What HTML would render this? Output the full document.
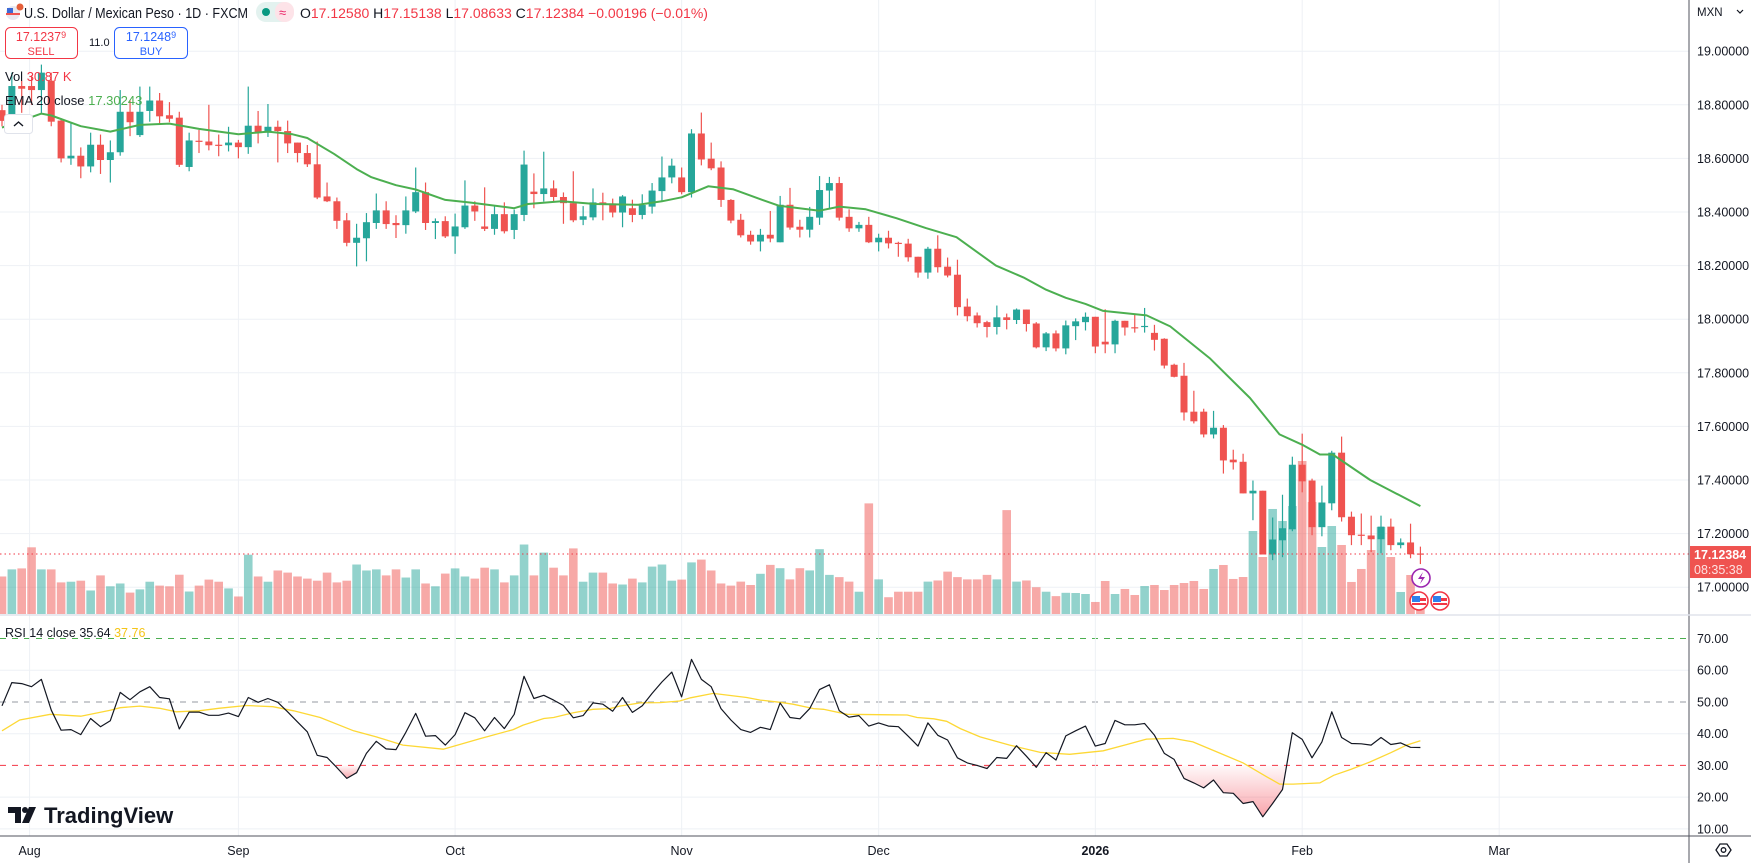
<!DOCTYPE html>
<html><head><meta charset="utf-8"><title>USDMXN</title>
<style>
html,body{margin:0;padding:0;background:#fff;}
body{width:1751px;height:863px;overflow:hidden;font-family:"Liberation Sans",sans-serif;}
svg text{font-family:"Liberation Sans",sans-serif;}
</style></head>
<body>
<svg id="chart" width="1751" height="863" viewBox="0 0 1751 863" xmlns="http://www.w3.org/2000/svg">
<defs>
<linearGradient id="osGrad" x1="0" y1="0" x2="0" y2="1">
<stop offset="0" stop-color="#f23645" stop-opacity="0.03"/>
<stop offset="1" stop-color="#f23645" stop-opacity="0.45"/>
</linearGradient>
</defs>
<rect x="0" y="0" width="1751" height="863" fill="#fff"/>
<g id="grid"></g>
<g id="vol"></g>
<g id="candles"></g>
<g id="ema"></g>
<g id="rsi"></g>
<g id="axes"></g>

<!-- header -->
<g>
  <g>
    <circle cx="13" cy="13" r="7" fill="#e8e8ef"/>
    <path d="M6 13 h14 v2 h-14z" fill="#ef5350"/>
    <rect x="7" y="8" width="6" height="5" fill="#3c6ad6"/>
    <circle cx="20" cy="7" r="3.5" fill="#e55f3a"/>
  </g>
  <text x="24" y="18" font-size="14.5" fill="#131722" textLength="224" lengthAdjust="spacingAndGlyphs">U.S. Dollar / Mexican Peso · 1D · FXCM</text>
  <g>
    <rect x="256" y="2" width="38" height="20" rx="10" fill="#e3f2ef"/>
    <rect x="275" y="2" width="19" height="20" rx="9" fill="#fde3e8"/>
    <circle cx="266" cy="12" r="4" fill="#089981"/>
    <text x="279" y="17" font-size="13" fill="#e91e63">≈</text>
  </g>
  <text x="300" y="18" font-size="14"><tspan fill="#131722">O</tspan><tspan fill="#f23645">17.12580</tspan><tspan fill="#131722"> H</tspan><tspan fill="#f23645">17.15138</tspan><tspan fill="#131722"> L</tspan><tspan fill="#f23645">17.08633</tspan><tspan fill="#131722"> C</tspan><tspan fill="#f23645">17.12384 −0.00196 (−0.01%)</tspan></text>
  <g>
    <rect x="5.5" y="27.5" width="72" height="31" rx="5" fill="#fff" stroke="#f23645"/>
    <text x="41" y="41" font-size="12.5" fill="#f23645" text-anchor="middle">17.1237<tspan font-size="9" dy="-3">9</tspan></text>
    <text x="41" y="55" font-size="11" fill="#f23645" text-anchor="middle">SELL</text>
  </g>
  <text x="89" y="46" font-size="11" fill="#131722">11.0</text>
  <g>
    <rect x="114.5" y="27.5" width="73" height="31" rx="5" fill="#fff" stroke="#2962ff"/>
    <text x="151" y="41" font-size="12.5" fill="#2962ff" text-anchor="middle">17.1248<tspan font-size="9" dy="-3">9</tspan></text>
    <text x="151" y="55" font-size="11" fill="#2962ff" text-anchor="middle">BUY</text>
  </g>
  <text x="5" y="81" font-size="13"><tspan fill="#131722">Vol </tspan><tspan fill="#f23645">30.87 K</tspan></text>
  <text x="5" y="105" font-size="13"><tspan fill="#131722">EMA 20 close </tspan><tspan fill="#4caf50">17.30243</tspan></text>
  <g>
    <rect x="4.5" y="114.5" width="28" height="19" rx="3" fill="#fff" stroke="#e0e3eb"/>
    <path d="M14 126 l4.5 -4 l4.5 4" fill="none" stroke="#131722" stroke-width="1.4"/>
  </g>
</g>

<text x="5" y="637" font-size="12.5"><tspan fill="#131722">RSI 14 close </tspan><tspan fill="#131722">35.64 </tspan><tspan fill="#f5c518">37.76</tspan></text>

<g>
  <path d="M8 807 h13 v16 h-6 v-10 h-7z" fill="#131722"/>
  <circle cx="25" cy="810" r="3" fill="#131722"/>
  <path d="M29 807 h7 l-7 16 h-7z" fill="#131722"/>
  <text x="44" y="823" font-size="22" font-weight="bold" fill="#131722">TradingView</text>
</g>

<g>
  <circle cx="1421" cy="578" r="9" fill="#fff" stroke="#9c27b0" stroke-width="1.6"/>
  <path d="M1423 572 l-5 7 h4 l-2 5 l5 -7 h-4z" fill="#9c27b0"/>
  <g>
    <circle cx="1419" cy="601" r="9" fill="#fff" stroke="#f23645" stroke-width="1.6"/>
    <rect x="1412" y="596" width="8" height="6" fill="#2f80ed"/><rect x="1420" y="598" width="6" height="3" fill="#f23645"/><rect x="1412" y="603" width="14" height="2" fill="#f23645"/>
  </g>
  <g>
    <circle cx="1440" cy="601" r="9" fill="#fff" stroke="#f23645" stroke-width="1.6"/>
    <rect x="1433" y="596" width="8" height="6" fill="#2f80ed"/><rect x="1441" y="598" width="6" height="3" fill="#f23645"/><rect x="1433" y="603" width="14" height="2" fill="#f23645"/>
  </g>
</g>

<g>
  <text x="1697" y="16" font-size="11.5" fill="#131722">MXN</text>
  <path d="M1737 10 l3 3 l3 -3" fill="none" stroke="#131722" stroke-width="1.2"/>
</g>
<g>
  <path d="M1716 850 l4 -6 h7 l4 6 l-4 6 h-7z" fill="none" stroke="#131722" stroke-width="1.3"/>
  <circle cx="1723.5" cy="850" r="2.3" fill="none" stroke="#131722" stroke-width="1.3"/>
</g>
</svg>

<script>
// ---------- data ----------
const opens  = [18.78,18.737,18.87,18.87,18.855,18.89,18.741,18.60,18.61,18.57,18.651,18.594,18.623,18.774,18.687,18.777,18.816,18.761,18.752,18.568,18.666,18.663,18.651,18.649,18.659,18.642,18.722,18.696,18.718,18.702,18.659,18.620,18.578,18.458,18.440,18.369,18.285,18.302,18.359,18.406,18.359,18.351,18.402,18.474,18.359,18.366,18.309,18.343,18.424,18.346,18.337,18.392,18.333,18.389,18.476,18.467,18.488,18.456,18.433,18.371,18.380,18.436,18.432,18.398,18.414,18.389,18.420,18.478,18.529,18.529,18.474,18.693,18.599,18.566,18.445,18.371,18.315,18.290,18.315,18.287,18.427,18.345,18.334,18.379,18.480,18.508,18.382,18.339,18.352,18.287,18.304,18.285,18.282,18.233,18.174,18.263,18.196,18.166,18.047,18.014,17.989,17.971,18.007,17.997,18.036,17.984,17.895,17.947,17.891,17.974,17.989,18.009,17.916,17.906,17.994,17.970,17.973,17.949,17.927,17.830,17.789,17.655,17.655,17.570,17.595,17.476,17.468,17.350,17.360,17.122,17.175,17.216,17.457,17.398,17.224,17.313,17.502,17.263,17.196,17.193,17.179,17.226,17.157,17.167,17.1258];
const highs  = [18.80,18.92,18.89,18.91,18.95,18.92,18.75,18.735,18.641,18.696,18.689,18.667,18.855,18.816,18.868,18.868,18.844,18.81,18.774,18.696,18.706,18.80,18.689,18.718,18.669,18.868,18.777,18.803,18.741,18.741,18.659,18.650,18.663,18.51,18.454,18.396,18.356,18.396,18.469,18.440,18.388,18.458,18.566,18.510,18.376,18.384,18.394,18.518,18.440,18.492,18.422,18.436,18.409,18.629,18.544,18.625,18.518,18.473,18.552,18.422,18.488,18.472,18.450,18.463,18.446,18.466,18.508,18.607,18.599,18.566,18.709,18.771,18.659,18.589,18.448,18.393,18.330,18.337,18.404,18.460,18.490,18.371,18.419,18.534,18.531,18.531,18.410,18.363,18.382,18.319,18.330,18.289,18.300,18.233,18.270,18.313,18.230,18.222,18.077,18.025,17.994,18.051,18.021,18.040,18.036,17.989,17.952,17.958,17.995,18.003,18.025,18.009,18.037,17.998,17.994,18.019,18.042,17.979,17.929,17.834,17.837,17.733,17.666,17.658,17.605,17.513,17.498,17.398,17.360,17.260,17.345,17.487,17.573,17.405,17.379,17.509,17.562,17.282,17.275,17.267,17.267,17.256,17.182,17.237,17.15138];
const lows   = [18.72,18.72,18.77,18.80,18.77,18.72,18.585,18.576,18.526,18.548,18.542,18.51,18.610,18.683,18.68,18.737,18.728,18.735,18.568,18.552,18.620,18.63,18.608,18.626,18.60,18.617,18.656,18.68,18.585,18.62,18.585,18.568,18.448,18.437,18.337,18.272,18.197,18.216,18.337,18.337,18.303,18.319,18.396,18.333,18.299,18.303,18.244,18.337,18.367,18.329,18.315,18.320,18.299,18.366,18.414,18.439,18.437,18.356,18.362,18.351,18.369,18.369,18.380,18.343,18.362,18.373,18.394,18.443,18.507,18.466,18.454,18.574,18.556,18.419,18.358,18.305,18.278,18.253,18.287,18.287,18.334,18.305,18.305,18.352,18.413,18.368,18.326,18.326,18.284,18.253,18.264,18.233,18.215,18.155,18.151,18.174,18.156,18.014,17.992,17.969,17.932,17.943,17.962,17.982,17.954,17.891,17.881,17.880,17.869,17.922,17.958,17.873,17.873,17.873,17.939,17.950,17.950,17.883,17.816,17.783,17.622,17.611,17.559,17.555,17.424,17.439,17.350,17.250,17.122,17.101,17.112,17.209,17.354,17.194,17.190,17.287,17.245,17.157,17.157,17.131,17.127,17.138,17.145,17.108,17.08633];
const closes = [18.74,18.87,18.86,18.855,18.92,18.737,18.60,18.61,18.57,18.651,18.594,18.623,18.774,18.735,18.774,18.816,18.757,18.748,18.576,18.667,18.664,18.649,18.648,18.659,18.642,18.722,18.696,18.718,18.702,18.656,18.620,18.578,18.454,18.440,18.367,18.285,18.304,18.362,18.406,18.355,18.351,18.406,18.474,18.359,18.366,18.309,18.346,18.424,18.402,18.337,18.392,18.328,18.392,18.577,18.467,18.488,18.456,18.433,18.369,18.384,18.436,18.426,18.398,18.458,18.389,18.426,18.480,18.529,18.573,18.474,18.693,18.596,18.563,18.445,18.368,18.313,18.290,18.315,18.301,18.427,18.342,18.334,18.382,18.482,18.508,18.379,18.339,18.352,18.287,18.304,18.283,18.283,18.231,18.174,18.263,18.194,18.163,18.045,18.011,17.985,17.971,18.007,17.997,18.036,17.982,17.895,17.947,17.891,17.977,17.992,18.009,17.898,17.906,17.994,17.969,17.969,17.975,17.923,17.827,17.785,17.652,17.619,17.570,17.595,17.473,17.466,17.350,17.360,17.122,17.178,17.220,17.457,17.395,17.224,17.316,17.502,17.261,17.194,17.194,17.179,17.226,17.157,17.167,17.123,17.12384];
const vols   = [72.4,86.1,88.0,128.7,86.1,86.1,61.0,62.3,64.3,45.4,74.5,53.5,58.9,41.3,47.5,62.3,54.8,53.5,75.8,43.4,54.8,66.4,62.3,49.4,33.8,114.4,72.4,62.3,84.0,79.9,72.4,68.3,64.3,79.9,61.0,64.3,95.5,84.0,86.1,74.5,86.1,70.4,86.1,58.9,53.5,78.0,88.0,72.4,68.3,89.4,86.1,61.0,74.5,134.1,74.5,118.5,89.4,74.5,126.6,62.3,79.9,79.9,58.9,56.9,68.3,61.0,91.5,95.5,64.3,66.4,99.6,105.0,84.0,58.9,54.8,62.5,56.0,77.6,94.8,88.4,66.8,88.4,84.1,125.1,75.5,71.2,62.5,43.0,213.5,66.8,32.4,43.0,43.0,43.0,62.5,64.7,81.8,71.2,66.8,66.8,75.5,66.8,200.5,62.5,64.7,51.7,43.0,34.5,40.9,40.5,38.6,23.2,63.7,38.6,48.3,36.7,54.0,56.0,46.3,56.0,59.8,63.7,48.3,86.9,94.6,67.6,71.4,160.2,110.0,202.7,179.5,208.4,295.3,216.2,129.3,169.8,133.2,61.8,86.9,123.5,167.9,110.0,42.5,75.3,30.87];
const emaIdx = [0,4,5,8,11,14,17,20,24,27,29.5,31,33.7,36,37.5,40,42,45,47.6,52,53.4,56.8,60.2,64.6,67,69,71.7,74.2,77.2,78.9,83,85,87.7,90.8,93.8,96.9,100.9,103.7,106,108,110,111.8,116.2,118.6,122.6,126.7,129.7,132.1,133.8,135.1,138.9,144];
const emaVal = [18.715,18.767,18.76,18.72,18.70,18.725,18.73,18.71,18.69,18.70,18.69,18.676,18.617,18.56,18.53,18.50,18.484,18.445,18.435,18.414,18.43,18.44,18.43,18.427,18.44,18.455,18.496,18.485,18.445,18.423,18.405,18.42,18.41,18.377,18.34,18.306,18.20,18.156,18.11,18.08,18.057,18.031,18.014,17.973,17.855,17.706,17.57,17.53,17.495,17.495,17.40,17.30243];
const rsiVal = [48.8,56.1,55.8,54.8,57.1,47.4,41.1,41.3,39.7,44.8,42.2,44.1,53.0,50.7,53.2,54.8,51.4,51.0,41.5,46.8,46.8,45.8,45.8,46.5,45.4,51.4,49.9,51.1,49.9,46.9,43.7,40.6,33.2,32.5,29.3,25.9,27.7,33.8,37.6,35.2,35.0,40.4,46.4,39.2,39.4,36.4,39.7,46.6,45.0,40.9,45.1,41.6,46.1,58.1,51.1,52.1,50.6,48.9,45.0,45.7,49.7,49.3,47.1,51.4,46.7,48.8,52.7,56.3,59.4,51.6,63.4,57.1,54.8,47.9,44.3,41.3,40.4,42.0,41.3,49.7,45.1,44.7,47.9,53.9,55.4,47.2,45.2,45.7,42.4,43.4,42.4,42.2,39.2,36.1,43.4,39.5,38.0,32.4,30.8,30.0,29.0,32.5,32.2,36.2,32.9,29.4,34.0,31.7,39.3,40.9,42.4,36.1,36.9,44.2,42.8,42.8,43.2,39.5,33.8,31.9,25.9,24.5,22.9,25.4,21.4,21.2,18.0,18.6,13.8,18.0,22.4,40.3,38.2,32.4,37.4,46.9,38.8,36.9,36.8,36.4,38.8,36.6,37.1,35.7,35.64];
const maIdx = [0,1.8,4.9,8,11,12,14,16,17.7,20,22,24.8,27.5,29.6,32.3,35.7,38,40.7,44.8,48.5,51.9,52.9,55,56,58,60,61.7,62.7,64.8,66.8,68.8,69.9,72.2,75.6,77,79,80.3,82.4,83.4,85.8,89.1,91.9,92.9,94.6,95.9,97.3,99.3,102.3,105.4,108.4,111.8,114.2,116.2,118.9,120.9,123.7,126,128.4,129.7,131.1,133.8,135.2,136.9,138.9,141,142.6,144];
const maVal = [40.9,44.3,46.1,45.5,47.4,48.2,48.7,48.0,46.9,47.2,48.0,48.9,48.5,47.2,45.1,40.9,39.0,36.4,35.1,38.4,41.3,42.7,44.8,45.1,46.6,47.7,47.9,48.7,49.7,49.8,50.3,51.3,52.7,51.4,50.6,49.9,49.3,47.9,47.7,46.1,46.0,45.9,45.1,44.7,43.9,41.6,39.0,36.4,34.1,33.5,34.6,36.6,38.3,38.5,37.4,33.8,30.8,26.4,24.1,24.1,24.5,26.9,28.7,31.1,34.0,36.4,37.76];
const priceTicks = ["19.00000","18.80000","18.60000","18.40000","18.20000","18.00000","17.80000","17.60000","17.40000","17.20000","17.00000"];
const rsiTicks = ["70.00","60.00","50.00","40.00","30.00","20.00","10.00"];
const timeLabels = ["Aug","Sep","Oct","Nov","Dec","2026","Feb","Mar"];
const timeIdx = [2.8,24,46,69,89,111,132,152];
const lastPrice = 17.12384;

// ---------- axis functions ----------
const NS = "http://www.w3.org/2000/svg";
const PLOT_R = 1689, PANE_SEP = 615, TIME_TOP = 836;
const xOf = i => 2 + 9.85 * i;
const yP = p => 51.2 + (19 - p) * 268;
const yV = v => PANE_SEP - 1 - v / 1.93;
const yR = r => 638.5 + (70 - r) * 3.173;
const TEAL = "#26a69a", RED = "#ef5350";

function mk(tag, attrs, parent) {
  const e = document.createElementNS(NS, tag);
  for (const k in attrs) e.setAttribute(k, attrs[k]);
  parent.appendChild(e);
  return e;
}
const grid = document.getElementById('grid');
const axes = document.getElementById('axes');

priceTicks.forEach(t => {
  const y = yP(parseFloat(t));
  const l = mk('line', {x1:0, x2:PLOT_R, y1:y, y2:y, stroke:'#eef1f5', 'stroke-width':1}, grid);
  
  
  const tx = mk('text', {x:1697, y:y+4.5, 'font-size':12.5, fill:'#131722'}, axes);
  tx.textContent = t;
  
  
});
rsiTicks.forEach(t => {
  const v = parseFloat(t);
  const y = yR(v);
  let attrs = {x1:0, x2:PLOT_R, y1:y, y2:y, stroke:'#eef1f5', 'stroke-width':1};
  if (v === 70) attrs = {x1:0, x2:PLOT_R, y1:y, y2:y, stroke:'#4caf50', 'stroke-width':1, 'stroke-dasharray':'6 6'};
  if (v === 50) attrs = {x1:0, x2:PLOT_R, y1:y, y2:y, stroke:'#9598a1', 'stroke-width':1, 'stroke-dasharray':'6 6'};
  if (v === 30) attrs = {x1:0, x2:PLOT_R, y1:y, y2:y, stroke:'#f23645', 'stroke-width':1, 'stroke-dasharray':'6 6'};
  const l = mk('line', attrs, grid);
  
  
  const tx = mk('text', {x:1697, y:y+4.5, 'font-size':12.5, fill:'#131722'}, axes);
  tx.textContent = t;
  
  
});
timeLabels.forEach((t, k) => {
  const x = xOf(timeIdx[k]);
  const l = mk('line', {x1:x, x2:x, y1:0, y2:TIME_TOP, stroke:'#eef1f5', 'stroke-width':1}, grid);
  
  
  const tx = mk('text', {x:x, y:855, 'font-size':12.5, fill:'#131722', 'text-anchor':'middle', 'font-weight': t === '2026' ? 'bold' : 'normal'}, axes);
  tx.textContent = t;
  
  
});

const volG = document.getElementById('vol');
vols.forEach((v, i) => {
  const up = closes[i] >= opens[i];
  const y = yV(v);
  const r = mk('rect', {x:xOf(i)-4.3, y:y, width:8.6, height:(PANE_SEP-1)-y, fill: up ? 'rgba(38,166,154,0.5)' : 'rgba(239,83,80,0.5)'}, volG);
  
  
});

const cG = document.getElementById('candles');
closes.forEach((c, i) => {
  const o = opens[i], up = c >= o, col = up ? TEAL : RED, x = xOf(i);
  const w = mk('line', {x1:x, x2:x, y1:yP(highs[i]), y2:yP(lows[i]), stroke:col, 'stroke-width':1.2}, cG);
  
  
  const top = yP(Math.max(o, c)), bot = yP(Math.min(o, c));
  const b = mk('rect', {x:x-3.5, y:top, width:7, height:Math.max(1.2, bot-top), fill:col}, cG);
  
  
});

const lp = mk('line', {x1:0, x2:PLOT_R, y1:yP(lastPrice), y2:yP(lastPrice), stroke:'#f23645', 'stroke-width':1, 'stroke-dasharray':'1.5 3'}, axes);



const emaPts = emaIdx.map((k, j) => xOf(k).toFixed(1) + ',' + yP(emaVal[j]).toFixed(1)).join(' ');
const ep = mk('polyline', {points:emaPts, fill:'none', stroke:'#4caf50', 'stroke-width':2, 'stroke-linejoin':'round'}, document.getElementById('ema'));



const rG = document.getElementById('rsi');
let seg = null;
const y30 = yR(30);
for (let i = 0; i < rsiVal.length; i++) {
  const r = rsiVal[i];
  if (r < 30) {
    if (!seg) {
      let xs = xOf(i);
      if (i > 0) { const r0 = rsiVal[i-1]; xs = xOf(i-1 + (r0-30)/(r0-r)); }
      seg = [xs + ',' + y30];
    }
    seg.push(xOf(i) + ',' + yR(r));
  } else if (seg) {
    const r0 = rsiVal[i-1];
    seg.push(xOf(i-1 + (r0-30)/(r0-r)) + ',' + y30);
    const pg = mk('polygon', {points:seg.join(' '), fill:'url(#osGrad)'}, rG);
    
    
    seg = null;
  }
}
const maPts = maIdx.map((k, j) => xOf(k).toFixed(1) + ',' + yR(maVal[j]).toFixed(1)).join(' ');
const mp = mk('polyline', {points:maPts, fill:'none', stroke:'#fdd835', 'stroke-width':1.3}, rG);


const rsiPts = rsiVal.map((r, i) => xOf(i).toFixed(1) + ',' + yR(r).toFixed(1)).join(' ');
const rp = mk('polyline', {points:rsiPts, fill:'none', stroke:'#131722', 'stroke-width':1.2, 'stroke-linejoin':'round'}, rG);



const f1 = mk('line', {x1:PLOT_R, x2:PLOT_R, y1:0, y2:863, stroke:'#50535e', 'stroke-width':1}, axes);


const f2 = mk('line', {x1:0, x2:1751, y1:PANE_SEP, y2:PANE_SEP, stroke:'#e0e3eb', 'stroke-width':1.5}, axes);


const f3 = mk('line', {x1:0, x2:1751, y1:TIME_TOP, y2:TIME_TOP, stroke:'#50535e', 'stroke-width':1}, axes);



const tagY = yP(lastPrice);
const tag = mk('rect', {x:PLOT_R+1, y:tagY-8, width:1751-PLOT_R-1, height:32, fill:'#ef5350'}, axes);


const t1 = mk('text', {x:1694, y:tagY+5, 'font-size':12.5, fill:'#fff', 'font-weight':'bold'}, axes);
t1.textContent = lastPrice.toFixed(5);


const t2 = mk('text', {x:1694, y:tagY+20, 'font-size':12.5, fill:'#fde2e2'}, axes);
t2.textContent = '08:35:38';


</script>
</body></html>
